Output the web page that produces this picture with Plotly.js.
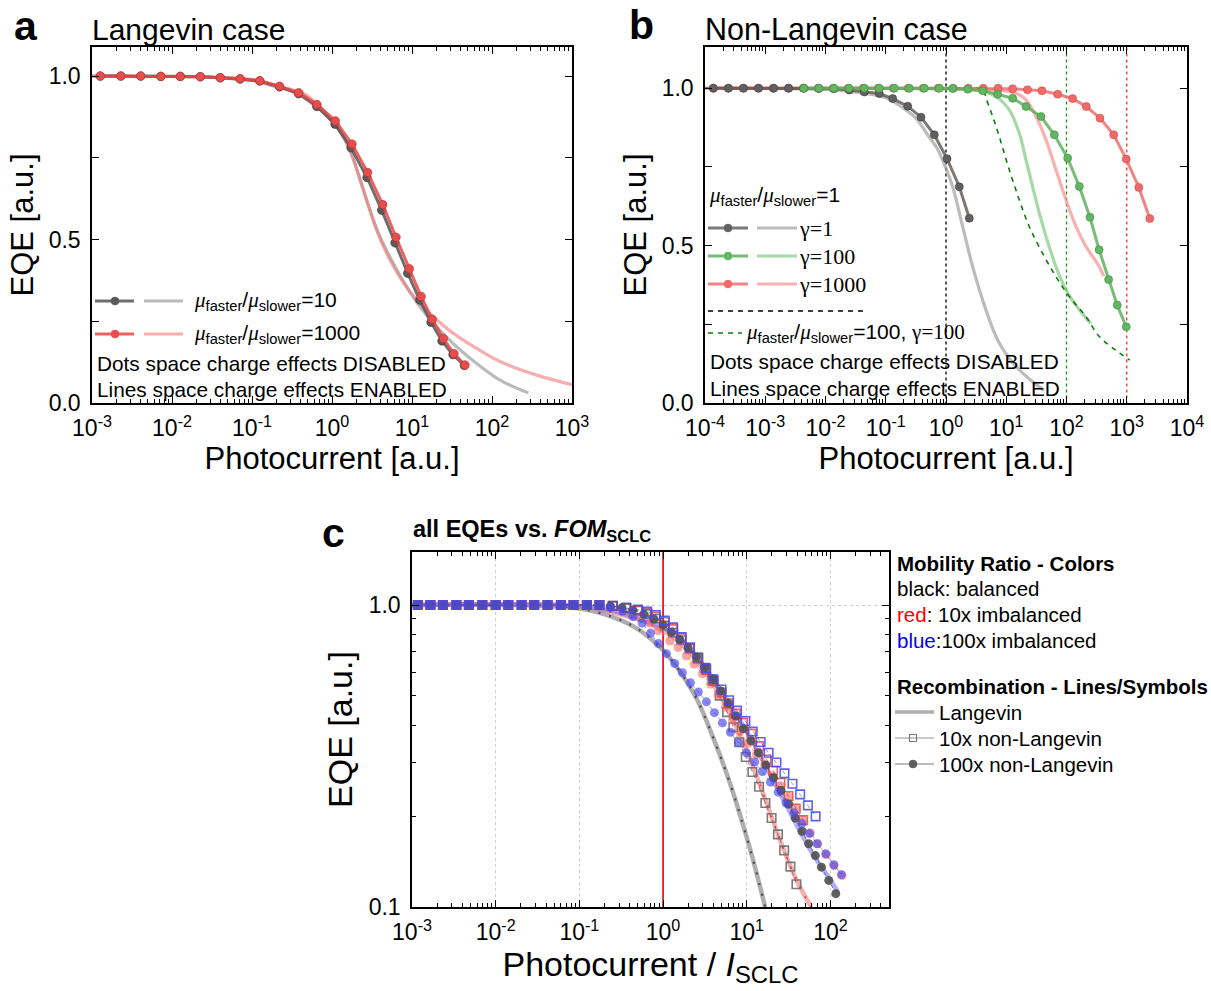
<!DOCTYPE html>
<html><head><meta charset="utf-8">
<script src="https://cdn.plot.ly/plotly-3.0.1.min.js"></script>
<style>html,body{margin:0;padding:0;background:#fff}#chart{width:1211px;height:991px}</style>
</head><body><div id="chart"></div>
<script>
// ================= DATA =================
// ---- Panel a : Langevin case ----
const aRedDotX   = [0.00127,0.00229,0.00406,0.00726,0.0127,0.0226,0.0401,0.0711,0.125,0.221,0.383,0.649,1.10,1.78,2.79,4.31,6.31,9.27,13.0,17.9,24.7,33.5,46.0];
const aRedDotY   = [1.0,1.0,1.0,0.999,0.999,0.998,0.995,0.992,0.986,0.969,0.949,0.913,0.863,0.792,0.705,0.607,0.507,0.411,0.326,0.256,0.197,0.151,0.116];
const aBlackDotX = [0.00127,0.00229,0.00406,0.00726,0.0127,0.0226,0.0401,0.0711,0.125,0.221,0.382,0.645,1.09,1.73,2.74,4.18,6.13,8.83,12.5,17.3,23.7,32.5,45.1];
const aBlackDotY = [1.0,1.0,1.0,0.999,0.999,0.998,0.995,0.991,0.985,0.967,0.946,0.907,0.853,0.781,0.690,0.590,0.490,0.397,0.315,0.247,0.190,0.148,0.115];
const aGreyLineX = [0.001,0.01,0.0316,0.1,0.168,0.439,0.708,1.143,1.679,2.239,2.985,3.981,5.848,8.570,12.59,20.32,36.14,64.27,125.9,285.1];
const aGreyLineY = [1.0,0.999,0.997,0.988,0.972,0.942,0.901,0.845,0.774,0.682,0.590,0.509,0.427,0.356,0.294,0.233,0.172,0.121,0.070,0.031];
const aPinkLineX = [0.001,0.01,0.0316,0.1,0.168,0.439,0.708,1.143,1.600,2.133,2.710,3.614,5.058,7.430,11.43,18.49,32.89,64.27,125.9,354.8,1000];
const aPinkLineY = [1.0,0.999,0.997,0.989,0.975,0.947,0.906,0.850,0.784,0.702,0.621,0.529,0.447,0.376,0.315,0.264,0.213,0.167,0.127,0.086,0.056];
const aXTickVals = [0.001,0.01,0.1,1,10,100,1000];
const aXTickText = ['10<sup>-3</sup>','10<sup>-2</sup>','10<sup>-1</sup>','10<sup>0</sup>','10<sup>1</sup>','10<sup>2</sup>','10<sup>3</sup>'];
const linYTickVals = [0,0.5,1.0];
const linYTickText = ['0.0','0.5','1.0'];

// ---- Panel b : Non-Langevin case ----
const bBlackDotX = [1.38e-4,2.455e-4,4.365e-4,7.762e-4,1.38e-3,2.455e-3,4.365e-3,7.762e-3,1.38e-2,2.483e-2,4.406e-2,7.816e-2,0.1303,0.2312,0.3846,0.6397,1.040,1.663,2.438];
const bBlackDotY = [1,1,1,1,1,1,1,0.999,0.998,0.994,0.988,0.983,0.967,0.943,0.908,0.852,0.776,0.687,0.587];
const bGreyLineX = [1e-4,3.162e-3,1.349e-2,3.981e-2,0.1,0.1791,0.3162,0.4955,0.7079,0.8590,1.288,1.892,2.773,4.613,7.674,16.48,42.27];
const bGreyLineY = [1,0.999,0.995,0.985,0.970,0.942,0.905,0.852,0.810,0.776,0.687,0.560,0.433,0.295,0.190,0.105,0.040];
const bGreenDotX = [4.365e-3,7.762e-3,1.38e-2,2.455e-2,4.416e-2,7.816e-2,0.1387,0.2460,0.4365,0.7745,1.291,2.291,4.064,7.211,12.79,21.28,37.76,62.81,104.5,163.3,245.5,347.5,500.0,695.0,981.7];
const bGreenDotY = [1,1,1,1,1,1,1,1,1,1,0.999,0.997,0.992,0.981,0.968,0.942,0.910,0.852,0.778,0.688,0.590,0.487,0.392,0.311,0.242];
const bGreenLineX = [1e-4,0.1,1.0,3.573,6.761,11.25,16.48,21.28,27.42,35.40,45.71,66.99,98.17,163.3,254.7];
const bGreenLineY = [1,1,0.998,0.992,0.973,0.931,0.857,0.772,0.687,0.603,0.529,0.433,0.359,0.296,0.252];
const bRedDotX = [1.368e-4,2.427e-4,4.305e-4,7.638e-4,1.355e-3,2.404e-3,4.266e-3,7.568e-3,1.343e-2,2.382e-2,4.227e-2,7.499e-2,0.1330,0.2360,0.4188,0.7430,1.318,2.339,4.150,7.328,12.76,22.54,39.17,71.45,126.2,212.8,359.8,608.1,981.7,1585,2410];
const bRedDotY = [1,1,1,1,1,1,1,1,1,1,1,1,1,1,1,1,1,1,1,1,0.998,0.995,0.992,0.981,0.967,0.942,0.905,0.852,0.775,0.685,0.586];
const bPinkLineX = [1e-4,1.0,6.761,14.52,21.28,31.19,45.71,66.99,98.17,143.9,210.9,350.8,412.1];
const bPinkLineY = [1,1,0.994,0.984,0.963,0.910,0.836,0.740,0.645,0.560,0.497,0.433,0.403];
const bGreenDashX = [1e-4,1.0,4.064,4.613,5.957,7.674,11.25,16.48,24.15,40.18,66.99,111.4,210.9,350.8,631.0,1122];
const bGreenDashY = [1,1,0.995,0.968,0.910,0.846,0.740,0.645,0.560,0.475,0.401,0.338,0.274,0.211,0.170,0.136];
const bVLineX = [1,100,1000];
const bVLineY = [-0.1,1.3];
const bXTickVals = [1e-4,1e-3,1e-2,0.1,1,10,100,1000,1e4];
const bXTickText = ['10<sup>-4</sup>','10<sup>-3</sup>','10<sup>-2</sup>','10<sup>-1</sup>','10<sup>0</sup>','10<sup>1</sup>','10<sup>2</sup>','10<sup>3</sup>','10<sup>4</sup>'];

// ---- Panel c : all EQEs vs FOM_SCLC ----
const cFlatX = [1.175e-3,1.660e-3,2.344e-3,3.388e-3,4.786e-3,6.918e-3,1.0e-2,1.413e-2,2.042e-2,2.884e-2,4.169e-2,6.026e-2,8.511e-2,0.1230,0.1738];
const cFlatY = [1,1,1,1,1,1,1,1,1,1,1,1,1,1,1];
const cBlackSqX = [0.2512,0.3631,0.5012,0.6457,0.8128,1.035,1.318,1.656,2.084,2.570,3.162,3.890,4.753,5.821,6.918,8.128,9.727,11.69,14.03,16.71,19.82,23.61,27.99,33.27,39.26];
const cBlackSqY = [0.992,0.975,0.957,0.933,0.902,0.855,0.809,0.764,0.716,0.668,0.619,0.565,0.501,0.442,0.394,0.351,0.314,0.280,0.250,0.221,0.197,0.174,0.154,0.136,0.119];
const cRedSqX = [0.2512,0.3631,0.5012,0.6457,0.8128,1.047,1.318,1.660,2.089,2.630,3.273,4.027,5.012,6.095,7.413,9.057,11.38,14.06,17.22,20.65,25.29,31.55,38.55,47.21];
const cRedSqY = [0.993,0.977,0.962,0.942,0.916,0.879,0.832,0.776,0.719,0.664,0.610,0.560,0.513,0.473,0.437,0.407,0.375,0.341,0.308,0.283,0.258,0.233,0.212,0.194];
const cBlueSqX = [0.2512,0.3631,0.5012,0.6457,0.8166,1.047,1.318,1.667,2.099,2.630,3.266,3.999,5.000,6.152,7.656,9.638,11.80,14.66,18.24,22.65,28.25,35.16,43.45,53.83,66.53];
const cBlueSqY = [0.994,0.980,0.966,0.951,0.927,0.889,0.843,0.783,0.724,0.670,0.617,0.568,0.525,0.484,0.447,0.413,0.381,0.352,0.324,0.301,0.277,0.256,0.236,0.217,0.1995];
const cBlackCirX = [0.2344,0.3236,0.4365,0.5888,0.7762,1.0,1.259,1.585,1.995,2.512,3.162,3.981,4.898,6.026,7.413,9.120,11.22,13.80,16.98,20.89,25.70,31.62,38.02,45.71,54.95,66.07,78.16,95.50,115.9];
const cBlackCirY = [0.991,0.980,0.962,0.933,0.897,0.859,0.813,0.767,0.721,0.673,0.621,0.569,0.519,0.473,0.429,0.389,0.355,0.324,0.295,0.268,0.243,0.219,0.197,0.178,0.162,0.148,0.1355,0.1225,0.1107];
const cRedCirX = [0.2344,0.3162,0.4169,0.5370,0.6918,0.8710,1.202,1.510,1.901,2.350,2.951,3.681,4.539,5.559,6.761,8.260,10.38,13.06,16.41,20.42,25.29,31.55,38.55,47.21,57.68,70.79,89.13,110.9,138.0];
const cRedCirY = [0.986,0.971,0.944,0.912,0.871,0.822,0.760,0.723,0.678,0.637,0.592,0.547,0.504,0.459,0.417,0.380,0.348,0.320,0.295,0.272,0.252,0.232,0.212,0.194,0.176,0.162,0.149,0.137,0.127];
const cBlueCirX = [0.2344,0.3311,0.4365,0.5623,0.7079,0.8810,1.096,1.377,1.702,2.123,2.642,3.296,4.111,5.117,6.383,7.943,9.908,12.47,15.38,19.19,23.77,29.51,36.73,45.60,56.23,69.34,87.90,109.6,135.2];
const cBlueCirY = [0.982,0.955,0.916,0.871,0.807,0.745,0.690,0.640,0.597,0.553,0.515,0.478,0.440,0.407,0.379,0.350,0.324,0.302,0.281,0.259,0.240,0.221,0.205,0.189,0.175,0.162,0.150,0.138,0.128];
const cBlackLangX = [0.001,0.0316,0.1,0.2512,0.5012,1.0,1.585,2.512,3.981,6.310,10.0,12.59,16.60];
const cBlackLangY = [1.0,0.995,0.973,0.912,0.832,0.708,0.603,0.490,0.363,0.257,0.170,0.135,0.100];
const cRedLangX = [0.001,0.1,0.2512,0.6310,1.0,1.585,2.512,3.981,6.310,10.0,15.85,25.12,39.81,58.88];
const cRedLangY = [1.0,0.993,0.944,0.875,0.820,0.750,0.653,0.546,0.435,0.329,0.236,0.166,0.122,0.100];
const cBlueLangX = [0.001,0.1,0.2512,0.5012,1.0,1.585,2.512,3.981,6.310,10.0,15.85,25.12,39.81,63.10,100,123.0];
const cBlueLangY = [1.0,0.993,0.955,0.902,0.841,0.776,0.676,0.569,0.468,0.380,0.302,0.237,0.186,0.148,0.123,0.112];
const cRefLineX = [1,1];
const cRefLineY = [0.05,3];
const cXTickVals = [0.001,0.01,0.1,1,10,100];
const cXTickText = ['10<sup>-3</sup>','10<sup>-2</sup>','10<sup>-1</sup>','10<sup>0</sup>','10<sup>1</sup>','10<sup>2</sup>'];
const cYTickVals = [0.1,1];
const cYTickText = ['0.1','1.0'];

// ================= HELPERS =================
const W = 1211, H = 991;
const FONT = '"Liberation Sans", Arial, sans-serif';
const X = v => v / W, Y = v => 1 - v / H;
const noHover = {hoverinfo:'skip', showlegend:false};

function axBase(){
  return {showline:true, linecolor:'#000', linewidth:1.5, mirror:'ticks', ticks:'inside',
    ticklen:7, tickwidth:1.3, tickcolor:'#000', tickfont:{family:FONT,size:23,color:'#000'},
    showgrid:false, zeroline:false, automargin:false, tickmode:'array'};
}
// minor tick positions (2..9 in each decade) for log axes
function minorLogTicks(d0, d1){
  const v = [];
  for(let d = d0; d < d1; d++) for(let k = 2; k <= 9; k++) v.push(k * Math.pow(10, d));
  return v;
}
// an overlaying axis that only draws the short minor ticks (both sides)
function minorAxis(over, anchor, range, d0, d1){
  return {overlaying:over, anchor:anchor, type:'log', range:range, tickmode:'array', tickvals:minorLogTicks(d0,d1),
    showticklabels:false, ticks:'inside', ticklen:4, tickwidth:1, tickcolor:'#000', mirror:'ticks',
    showline:false, showgrid:false, zeroline:false, automargin:false};
}

function ann(text, x, y, size, extra){
  return Object.assign({text, x:X(x), y:Y(y), xref:'paper', yref:'paper', xanchor:'left', yanchor:'middle',
    showarrow:false, font:{family:FONT,size,color:'#000'}}, extra||{});
}
function seg(x0,x1,y,color,width,dash){
  return {type:'line', xref:'paper', yref:'paper', x0:X(x0), x1:X(x1), y0:Y(y), y1:Y(y), line:{color,width,dash:dash||'solid'}};
}
function dotShape(cx,cy,r,color){
  return {type:'circle', xref:'paper', yref:'paper', x0:X(cx-r), x1:X(cx+r), y0:Y(cy+r), y1:Y(cy-r), fillcolor:color, line:{color,width:0.5}};
}
function sqShape(cx,cy,r,color){
  return {type:'rect', xref:'paper', yref:'paper', x0:X(cx-r), x1:X(cx+r), y0:Y(cy+r), y1:Y(cy-r), fillcolor:'rgba(0,0,0,0)', line:{color,width:1.2}};
}
const MU = '<span style="font-family:Liberation Serif"><i>μ</i></span>';
const RATIO = MU + '<sub>faster</sub>/' + MU + '<sub>slower</sub>';
const serif = t => '<span style="font-family:Liberation Serif">' + t + '</span>';

// ================= TRACES =================
const traces = [];
function add(t, xa, ya){ traces.push(Object.assign({type:'scatter', xaxis:xa, yaxis:ya}, noHover, t)); }

// Panel a
add({x:aGreyLineX, y:aGreyLineY, mode:'lines', line:{color:'rgba(150,150,150,0.65)', width:3.2, shape:'spline'}}, 'x','y');
add({x:aPinkLineX, y:aPinkLineY, mode:'lines', line:{color:'rgba(240,120,120,0.6)', width:3.2, shape:'spline'}}, 'x','y');
add({x:aBlackDotX, y:aBlackDotY, mode:'lines+markers', line:{color:'rgba(85,85,85,0.85)', width:3},
     marker:{size:8.5, color:'#5a5a5a', line:{color:'#383838', width:0.6}}}, 'x','y');
add({x:aRedDotX, y:aRedDotY, mode:'lines+markers', line:{color:'rgba(230,70,70,0.85)', width:3},
     marker:{size:8.5, color:'#ea4b4b', line:{color:'#b53030', width:0.6}}}, 'x','y');

// Panel b
const vColors = ['#000000','#1a8f1a','#ff3333'];
bVLineX.forEach((v,i) => add({x:[v,v], y:bVLineY, mode:'lines', line:{color:vColors[i], width:1.3, dash:'3px,3px'}}, 'x2','y2'));
add({x:bGreyLineX, y:bGreyLineY, mode:'lines', line:{color:'rgba(160,160,160,0.7)', width:3.2, shape:'spline'}}, 'x2','y2');
add({x:bGreenLineX, y:bGreenLineY, mode:'lines', line:{color:'rgba(130,200,130,0.7)', width:3.2, shape:'spline'}}, 'x2','y2');
add({x:bPinkLineX, y:bPinkLineY, mode:'lines', line:{color:'rgba(245,150,150,0.75)', width:3.2, shape:'spline'}}, 'x2','y2');
add({x:bGreenDashX, y:bGreenDashY, mode:'lines', line:{color:'#0b7d0b', width:1.6, dash:'5px,5px', shape:'spline'}}, 'x2','y2');
add({x:bRedDotX, y:bRedDotY, mode:'lines+markers', line:{color:'rgba(240,110,110,0.85)', width:3},
     marker:{size:8, color:'#f06a6a', line:{color:'#d04848', width:0.6}}}, 'x2','y2');
add({x:bBlackDotX, y:bBlackDotY, mode:'lines+markers', line:{color:'rgba(95,85,80,0.8)', width:3},
     marker:{size:8, color:'#606060', line:{color:'#404040', width:0.6}}}, 'x2','y2');
add({x:bGreenDotX, y:bGreenDotY, mode:'lines+markers', line:{color:'rgba(95,178,95,0.85)', width:3},
     marker:{size:8, color:'#62b562', line:{color:'#3f8f3f', width:0.6}}}, 'x2','y2');

// Panel c
add({x:cRefLineX, y:cRefLineY, mode:'lines', line:{color:'#e00000', width:1.6}}, 'x3','y3');
add({x:cBlackLangX, y:cBlackLangY, mode:'lines', line:{color:'rgba(120,120,120,0.6)', width:4.5, shape:'spline'}}, 'x3','y3');
add({x:cBlackLangX, y:cBlackLangY, mode:'lines', line:{color:'rgba(60,60,60,0.85)', width:2.2, dash:'2px,9px', shape:'spline'}}, 'x3','y3');
add({x:cRedLangX, y:cRedLangY, mode:'lines', line:{color:'rgba(245,120,120,0.6)', width:4.5, shape:'spline'}}, 'x3','y3');
add({x:cRedLangX, y:cRedLangY, mode:'lines', line:{color:'rgba(220,40,40,0.75)', width:2, dash:'2px,9px', shape:'spline'}}, 'x3','y3');
add({x:cBlueLangX, y:cBlueLangY, mode:'lines', line:{color:'rgba(110,110,240,0.55)', width:4.5, shape:'spline'}}, 'x3','y3');

const sqLine = c => ({color:c, width:1, dash:'4px,3px'});
add({x:cFlatX.concat(cBlackSqX), y:cFlatY.concat(cBlackSqY), mode:'lines+markers', line:sqLine('rgba(100,100,100,0.7)'),
     marker:{symbol:'square-open', size:8.5, color:'rgba(110,110,110,0.9)', line:{width:1.6}}}, 'x3','y3');
add({x:cFlatX.concat(cRedCirX), y:cFlatY.concat(cRedCirY), mode:'lines+markers', line:sqLine('rgba(240,100,100,0.6)'),
     marker:{symbol:'circle', size:9, color:'rgba(245,110,110,0.6)'}}, 'x3','y3');
add({x:cFlatX.concat(cRedSqX), y:cFlatY.concat(cRedSqY), mode:'lines+markers', line:sqLine('rgba(230,60,60,0.6)'),
     marker:{symbol:'square-open', size:8.5, color:'rgba(230,60,60,0.8)', line:{width:1.6}}}, 'x3','y3');
add({x:cFlatX.concat(cBlackCirX), y:cFlatY.concat(cBlackCirY), mode:'lines+markers', line:sqLine('rgba(80,80,80,0.7)'),
     marker:{symbol:'circle', size:9, color:'rgba(80,80,80,0.9)'}}, 'x3','y3');
add({x:cFlatX.concat(cBlueCirX), y:cFlatY.concat(cBlueCirY), mode:'lines+markers', line:sqLine('rgba(70,70,235,0.6)'),
     marker:{symbol:'circle', size:9, color:'rgba(70,70,235,0.65)'}}, 'x3','y3');
add({x:cFlatX.concat(cBlueSqX), y:cFlatY.concat(cBlueSqY), mode:'lines+markers', line:sqLine('rgba(70,70,240,0.6)'),
     marker:{symbol:'square-open', size:8.5, color:'rgba(70,70,240,0.85)', line:{width:1.6}}}, 'x3','y3');

// empty traces so the minor-tick overlay axes are instantiated
add({x:[], y:[], mode:'lines'}, 'x4','y');
add({x:[], y:[], mode:'lines'}, 'x5','y2');
add({x:[], y:[], mode:'lines'}, 'x6','y3');
add({x:[], y:[], mode:'lines'}, 'x3','y4');

// ================= LAYOUT =================
const titleFont = {family:FONT, size:31, color:'#000'};
const titleFontC = {family:FONT, size:34, color:'#000'};
const linMinor = {ticks:'inside', ticklen:7, tickwidth:1.3, tickcolor:'#000', dtick:0.25, tick0:0, showgrid:false};
const layout = {
  width:W, height:H, margin:{l:0,r:0,t:0,b:0,pad:0},
  paper_bgcolor:'#fff', plot_bgcolor:'rgba(0,0,0,0)', showlegend:false,
  xaxis: Object.assign(axBase(), {type:'log', domain:[X(92),X(572)], range:[-3,3], anchor:'y',
    tickvals:aXTickVals, ticktext:aXTickText, ticklabelstandoff:4,
    title:{text:'Photocurrent [a.u.]', font:titleFont, standoff:3}}),
  yaxis: Object.assign(axBase(), {domain:[Y(403),Y(47)], range:[0,1.089], anchor:'x',
    tickvals:linYTickVals, ticktext:linYTickText, ticklabelstandoff:5, minor:linMinor,
    title:{text:'EQE [a.u.]', font:titleFont, standoff:6}}),
  xaxis2: Object.assign(axBase(), {type:'log', domain:[X(705),X(1187)], range:[-4,4], anchor:'y2',
    tickvals:bXTickVals, ticktext:bXTickText, ticklabelstandoff:4,
    title:{text:'Photocurrent [a.u.]', font:titleFont, standoff:3}}),
  yaxis2: Object.assign(axBase(), {domain:[Y(403),Y(47)], range:[0,1.131], anchor:'x2',
    tickvals:linYTickVals, ticktext:linYTickText, ticklabelstandoff:5, minor:linMinor,
    title:{text:'EQE [a.u.]', font:titleFont, standoff:6}}),
  xaxis3: Object.assign(axBase(), {type:'log', domain:[X(412),X(889)], range:[-3,2.7], anchor:'y3',
    tickvals:cXTickVals, ticktext:cXTickText, ticklabelstandoff:4,
    showgrid:true, gridcolor:'#cfcfcf', griddash:'dot', gridwidth:1,
    title:{text:'Photocurrent / <i>I</i><sub>SCLC</sub>', font:titleFontC, standoff:2}}),
  yaxis3: Object.assign(axBase(), {type:'log', domain:[Y(907),Y(552)], range:[-1,0.1755], anchor:'x3',
    tickvals:cYTickVals, ticktext:cYTickText, ticklabelstandoff:5,
    showgrid:true, gridcolor:'#cfcfcf', griddash:'dot', gridwidth:1,
    title:{text:'EQE [a.u.]', font:titleFontC, standoff:6}}),
  xaxis4: minorAxis('x', 'y', [-3,3], -3, 3),
  xaxis5: minorAxis('x2', 'y2', [-4,4], -4, 4),
  xaxis6: minorAxis('x3', 'y3', [-3,2.7], -3, 3),
  yaxis4: minorAxis('y3', 'x3', [-1,0.1755], -1, 1),
  annotations: [
    ann('<b>a</b>', 12, 26, 41),
    ann('Langevin case', 90, 30, 30),
    ann('<b>b</b>', 627, 25, 41),
    ann('Non-Langevin case', 703, 29, 30.5),
    ann('<b>c</b>', 320, 533, 41),
    ann('<b>all EQEs vs. <i>FOM</i><sub>SCLC</sub></b>', 411, 530, 23.5),
    // panel a legend
    ann(RATIO + '=10', 192, 301, 21),
    ann(RATIO + '=1000', 192, 334, 21),
    ann('Dots space charge effects DISABLED', 95, 363, 20.8),
    ann('Lines space charge effects ENABLED', 95, 389, 20.8),
    // panel b legend
    ann(RATIO + '=1', 707, 196, 21),
    ann(serif('γ=1'), 797, 228, 22),
    ann(serif('γ=100'), 797, 256, 22),
    ann(serif('γ=1000'), 797, 284, 22),
    ann(RATIO + '=100, ' + serif('γ=100'), 744, 333, 21),
    ann('Dots space charge effects DISABLED', 708, 362, 20.8),
    ann('Lines space charge effects ENABLED', 708, 388, 20.8),
    // panel c legend
    ann('<b>Mobility Ratio - Colors</b>', 895, 563, 20.5),
    ann('black: balanced', 895, 588, 20.5),
    ann('<span style="color:#ff0000">red</span>: 10x imbalanced', 895, 614, 20.5),
    ann('<span style="color:#0000ff">blue</span>:100x imbalanced', 895, 640, 20.5),
    ann('<b>Recombination - Lines/Symbols</b>', 895, 686, 20.5),
    ann('Langevin', 937, 712, 20.5),
    ann('10x non-Langevin', 937, 738, 20.5),
    ann('100x non-Langevin', 937, 764, 20.5)
  ],
  shapes: [
    // panel a legend samples
    seg(95,134,301,'rgba(85,85,85,0.85)',3), dotShape(115,301,4,'#5a5a5a'), seg(144,183,301,'rgba(150,150,150,0.65)',3),
    seg(95,134,334,'rgba(230,70,70,0.85)',3), dotShape(115,334,4,'#ea4b4b'), seg(144,183,334,'rgba(240,120,120,0.6)',3),
    // panel b legend samples
    seg(708,748,228,'rgba(100,100,100,0.85)',3), dotShape(728,228,4,'#606060'), seg(757,797,228,'rgba(160,160,160,0.7)',3),
    seg(708,748,256,'rgba(95,178,95,0.85)',3), dotShape(728,256,4,'#62b562'), seg(757,797,256,'rgba(130,200,130,0.7)',3),
    seg(708,748,284,'rgba(240,110,110,0.85)',3), dotShape(728,284,4,'#f06a6a'), seg(757,797,284,'rgba(245,150,150,0.75)',3),
    seg(708,868,311,'#000000',1.3,'5px,5px'),
    seg(708,742,333,'#0b7d0b',1.5,'5px,5px'),
    // panel c legend samples
    seg(895,934,712,'rgba(140,140,140,0.7)',3.5),
    seg(895,934,738,'rgba(120,120,120,0.8)',1), sqShape(913,738,3.5,'rgba(110,110,110,0.9)'),
    seg(895,934,764,'rgba(90,90,90,0.8)',1), dotShape(913,764,4,'rgba(80,80,80,0.9)')
  ]
};

Plotly.newPlot('chart', traces, layout, {displayModeBar:false});
</script>
</body></html>
